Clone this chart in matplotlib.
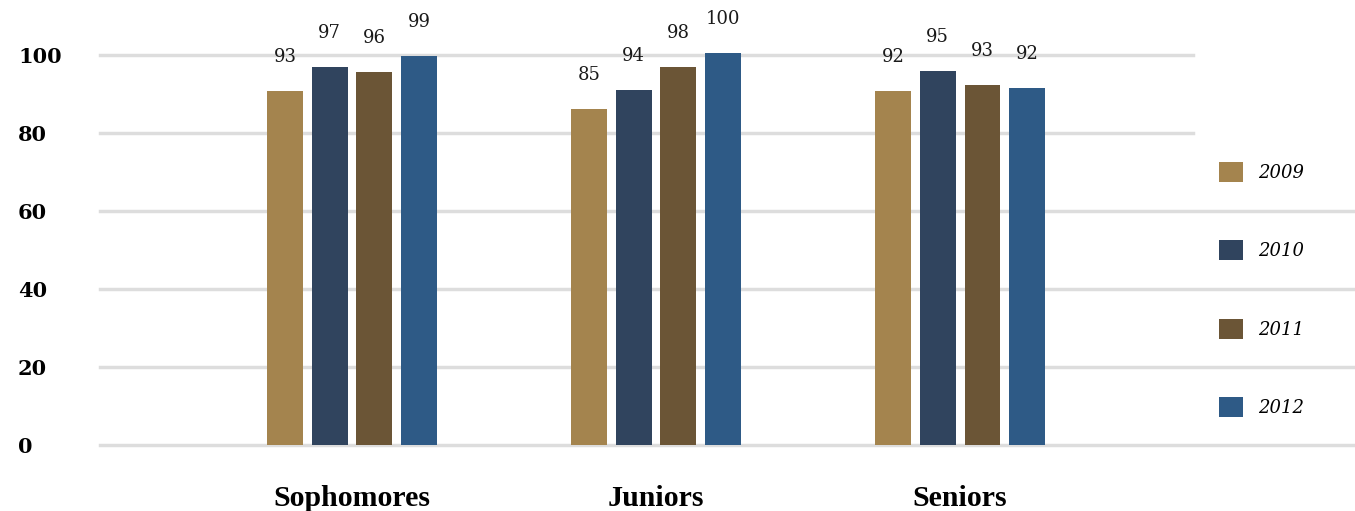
import numpy as np
import matplotlib
matplotlib.use("Agg")
import matplotlib.pyplot as plt
from matplotlib.patches import Patch

# --- DATA ---
categories = ["Sophomores", "Juniors", "Seniors"]
years = ["2009", "2010", "2011", "2012"]
# bar heights as drawn in the reference
heights = {
    "2009": [90.8, 86.2, 90.8],
    "2010": [96.9, 91.0, 96.0],
    "2011": [95.6, 96.9, 92.3],
    "2012": [99.7, 100.5, 91.5],
}
# value labels as printed above the bars
labels = {
    "2009": ["93", "85", "92"],
    "2010": ["97", "94", "95"],
    "2011": ["96", "98", "93"],
    "2012": ["99", "100", "92"],
}
yticks = [0, 20, 40, 60, 80, 100]
colors = {"2009": "#A4844E", "2010": "#30445E", "2011": "#6B5536", "2012": "#2E5A86"}

W, H = 1355, 511
fig = plt.figure(figsize=(W / 100, H / 100), dpi=100)
ax = fig.add_axes([100 / W, 66 / H, 1093 / W, 429 / H])

x = np.arange(len(categories))
step = 0.147
bw = 0.118
for i, yr in enumerate(years):
    pos = x + (i - 1.5) * step
    bars = ax.bar(pos, heights[yr], width=bw, color=colors[yr], zorder=3, clip_on=False)
    for b, lab in zip(bars, labels[yr]):
        ax.annotate(lab, (b.get_x() + b.get_width() / 2, b.get_height()),
                    xytext=(0, 24.5), textcoords="offset points", ha="center", va="center",
                    fontsize=13, family="DejaVu Serif", color="#1a1a1a")

ax.set_xlim(-0.829, 2.766)
ax.set_ylim(0, 110)

# gridlines (lower ones run on under the legend)
for v in yticks:
    xm = 1.0 if v >= 80 else (W - 100) / 1093
    ax.axhline(v, xmin=0, xmax=xm, color="#DDDDDD", lw=2.5, zorder=1, clip_on=False)

ax.set_yticks(yticks)
ax.set_yticklabels([str(v) for v in yticks], fontsize=15, fontweight="bold", family="DejaVu Serif")
for t in ax.get_yticklabels():
    t.set_horizontalalignment("left")
ax.tick_params(axis="y", length=0, pad=59)

ax.set_xticks(x)
ax.set_xticklabels(categories, fontsize=21.5, fontweight="bold", family="Liberation Serif")
ax.tick_params(axis="x", length=0, pad=29)

for s in ax.spines.values():
    s.set_visible(False)

handles = [Patch(facecolor=colors[y], edgecolor="none") for y in years]
leg = fig.legend(handles, years, loc="upper left", bbox_to_anchor=(1219 / W, 1 - 162 / H),
                 frameon=False, borderpad=0, borderaxespad=0, handlelength=1.33,
                 handleheight=1.33, handletextpad=0.83, labelspacing=3.23,
                 prop={"family": "DejaVu Serif", "style": "italic", "size": 13})

fig.savefig("out.png", dpi=100)
